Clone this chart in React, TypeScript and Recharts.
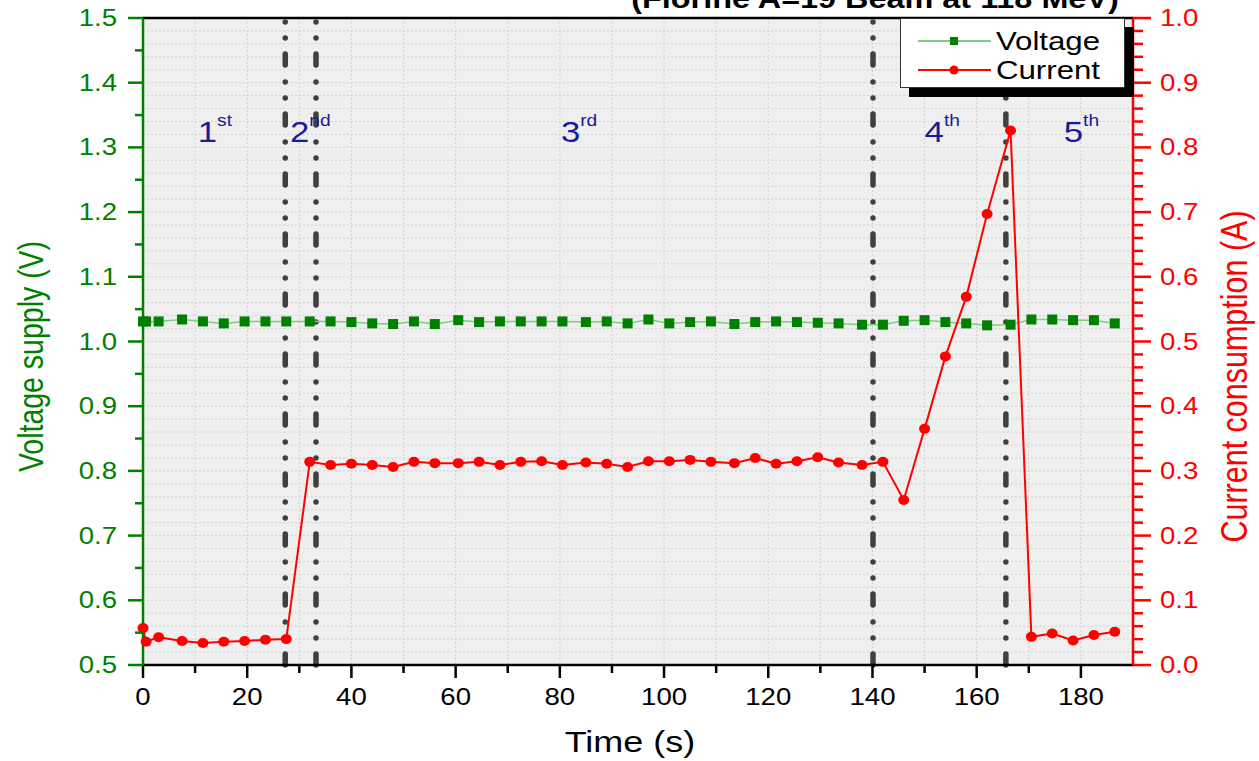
import React from 'react';
import {
  LineChart,
  Line,
  XAxis,
  YAxis,
  CartesianGrid,
  ReferenceLine,
  ReferenceDot,
  Legend,
} from 'recharts';

// time stamps (s) shared by both series
const times = [
  0, 0.6, 3, 7.5, 11.5, 15.5, 19.5, 23.5, 27.5, 32, 36, 40, 44, 48, 52, 56, 60.5, 64.5, 68.5, 72.5,
  76.5, 80.5, 85, 89, 93, 97, 101, 105, 109, 113.5, 117.5, 121.5, 125.5, 129.5, 133.5, 138, 142,
  146, 150, 154, 158, 162, 166.5, 170.5, 174.5, 178.5, 182.5, 186.5,
];

const voltage = [
  1.031, 1.031, 1.031, 1.034, 1.031, 1.028, 1.031, 1.031, 1.031, 1.031, 1.031, 1.03, 1.028, 1.027,
  1.031, 1.027, 1.033, 1.03, 1.031, 1.031, 1.031, 1.031, 1.03, 1.031, 1.028, 1.034, 1.028, 1.03,
  1.031, 1.027, 1.03, 1.031, 1.03, 1.029, 1.028, 1.026, 1.026, 1.032, 1.033, 1.03, 1.028, 1.025,
  1.026, 1.034, 1.034, 1.033, 1.033, 1.028,
];

const current = [
  0.057, 0.036, 0.043, 0.037, 0.034, 0.036, 0.037, 0.039, 0.04, 0.314, 0.309, 0.311, 0.309, 0.306,
  0.314, 0.312, 0.312, 0.314, 0.309, 0.314, 0.315, 0.309, 0.313, 0.311, 0.306, 0.315, 0.315, 0.317,
  0.314, 0.312, 0.32, 0.311, 0.315, 0.321, 0.313, 0.309, 0.314, 0.255, 0.365, 0.477, 0.569, 0.697,
  0.826, 0.0435, 0.0486, 0.0378, 0.0464, 0.0515,
];

// stage boundaries and stage labels
const stageBounds = [27.3, 33.2, 140.1, 165.6];
const stageNums = ['1', '2', '3', '4', '5'];
const stageSups = ['st', 'nd', 'rd', 'th', 'th'];
const stageLabelAt = [10.5, 28.2, 80.2, 150, 176.7];

const xTicks = [0, 10, 20, 30, 40, 50, 60, 70, 80, 90, 100, 110, 120, 130, 140, 150, 160, 170, 180];
const leftTicks = [
  0.5, 0.55, 0.6, 0.65, 0.7, 0.75, 0.8, 0.85, 0.9, 0.95, 1.0, 1.05, 1.1, 1.15, 1.2, 1.25, 1.3, 1.35,
  1.4, 1.45, 1.5,
];
const rightTicks = Array.from({ length: 51 }, (_, i) => Math.round(i * 2) / 100);

const data = times.map((t, i) => ({ t, voltage: voltage[i], current: current[i] }));

const FONT = '"Liberation Sans", Arial, sans-serif';
const GREEN = '#008000';
const RED = '#ff0000';
const NAVY = '#1a1a9c';
const SX = 1.2; // the source figure is stretched horizontally

const isMajor = (v: number, step: number) => Math.abs(v / step - Math.round(v / step)) < 1e-6;

const LeftTick = ({ x, y, payload }: any) => {
  const major = isMajor(payload.value, 0.1);
  return (
    <g>
      <line x1={x - (major ? 15 : 8)} x2={x} y1={y} y2={y} stroke={GREEN} strokeWidth={2.5} />
      {major && (
        <g transform={`translate(${x - 26},${y + 8}) scale(${SX},1)`}>
          <text textAnchor="end" fontSize={23} fontFamily={FONT} fill={GREEN}>
            {payload.value.toFixed(1)}
          </text>
        </g>
      )}
    </g>
  );
};

const RightTick = ({ x, y, payload }: any) => {
  const major = isMajor(payload.value, 0.1);
  return (
    <g>
      <line x1={x} x2={x + (major ? 18 : 10)} y1={y} y2={y} stroke={RED} strokeWidth={2.5} />
      {major && (
        <g transform={`translate(${x + 27},${y + 8}) scale(${SX},1)`}>
          <text textAnchor="start" fontSize={23} fontFamily={FONT} fill={RED}>
            {payload.value.toFixed(1)}
          </text>
        </g>
      )}
    </g>
  );
};

const BottomTick = ({ x, y, payload }: any) => {
  const major = isMajor(payload.value, 20);
  return (
    <g>
      <line x1={x} x2={x} y1={y} y2={y + (major ? 13 : 8)} stroke="#000" strokeWidth={2.5} />
      {major && (
        <g transform={`translate(${x},${y + 40}) scale(${SX},1)`}>
          <text textAnchor="middle" fontSize={23} fontFamily={FONT} fill="#000">
            {payload.value}
          </text>
        </g>
      )}
    </g>
  );
};

const squareDot = (p: any) => (
  <rect key={`v${p.index}`} x={p.cx - 5} y={p.cy - 5} width={10} height={10} fill={GREEN} />
);
const roundDot = (p: any) => (
  <ellipse key={`c${p.index}`} cx={p.cx} cy={p.cy} rx={5.5} ry={5} fill={RED} />
);

const stageLabel = (i: number) => (p: any) => {
  const vb = p.viewBox || {};
  return (
    <g transform={`translate(${vb.x},${vb.y}) scale(${SX},1)`}>
      <text fontSize={29} fontFamily={FONT} fill={NAVY}>
        {stageNums[i]}
        <tspan dy={-16} fontSize={16}>
          {stageSups[i]}
        </tspan>
      </text>
    </g>
  );
};

const axisTitle = (text: string, color: string, dx: number, dy: number, size: number) => (p: any) => {
  const vb = p.viewBox;
  const cx = vb.x + dx;
  const cy = vb.y + vb.height / 2 + dy;
  return (
    <g transform={`translate(${cx},${cy}) scale(${SX},1) rotate(-90)`}>
      <text textAnchor="middle" fontSize={size} fontFamily={FONT} fill={color}>
        {text}
      </text>
    </g>
  );
};

const timeTitle = (p: any) => {
  const vb = p.viewBox;
  return (
    <g transform={`translate(${vb.x + vb.width / 2 - 8},${vb.y + 87}) scale(${SX},1)`}>
      <text textAnchor="middle" fontSize={30} fontFamily={FONT} fill="#000">
        Time (s)
      </text>
    </g>
  );
};

const LegendBox = () => (
  <div
    style={{
      width: 223,
      height: 68,
      background: '#fff',
      border: '1px solid #333',
      boxShadow: '9px 9px 0 #000',
    }}
  >
    <svg width={223} height={68}>
      <line x1={17} x2={90} y1={22} y2={22} stroke="#80cc80" strokeWidth={2} />
      <rect x={49} y={18} width={8} height={8} fill={GREEN} />
      <g transform={`translate(95,31) scale(${SX},1)`}>
        <text fontSize={26} fontFamily={FONT} fill="#000">
          Voltage
        </text>
      </g>
      <line x1={17} x2={90} y1={51} y2={51} stroke={RED} strokeWidth={2} />
      <circle cx={53} cy={51} r={4.5} fill={RED} />
      <g transform={`translate(95,60) scale(${SX},1)`}>
        <text fontSize={26} fontFamily={FONT} fill="#000">
          Current
        </text>
      </g>
    </svg>
  </div>
);

const dashDot = (p: any) => (
  <line
    x1={p.x1}
    x2={p.x2}
    y1={p.y1}
    y2={p.y2}
    stroke="#404040"
    strokeWidth={5.5}
    strokeLinecap="round"
    strokeDasharray="11 16 0 16 0 17"
  />
);

export default function App() {
  return (
    <div style={{ position: 'absolute', left: 0, top: 0, width: 1259, height: 761, background: '#fff' }}>
      <LineChart
        width={1259}
        height={761}
        data={data}
        margin={{ top: 18, right: 0, bottom: 0, left: 0 }}
      >
        <CartesianGrid
          yAxisId="right"
          fill="#efefef"
          stroke="#d2d2d2"
          strokeDasharray="2 2"
        />
        <XAxis
          dataKey="t"
          type="number"
          domain={[0, 190]}
          ticks={xTicks}
          interval={0}
          height={96}
          tickSize={0}
          tickMargin={0}
          tick={<BottomTick />}
          axisLine={{ stroke: '#000', strokeWidth: 2.5 }}
          tickLine={false}
          label={timeTitle}
        />
        <YAxis
          yAxisId="left"
          orientation="left"
          domain={[0.5, 1.5]}
          ticks={leftTicks}
          interval={0}
          width={143}
          tickSize={0}
          tickMargin={0}
          tick={<LeftTick />}
          axisLine={{ stroke: GREEN, strokeWidth: 2.5 }}
          tickLine={false}
          allowDataOverflow
          label={axisTitle('Voltage supply (V)', GREEN, 43, 15, 28.5)}
        />
        <YAxis
          yAxisId="right"
          orientation="right"
          domain={[0, 1]}
          ticks={rightTicks}
          interval={0}
          width={126}
          tickSize={0}
          tickMargin={0}
          tick={<RightTick />}
          axisLine={{ stroke: RED, strokeWidth: 2.5 }}
          tickLine={false}
          allowDataOverflow
          label={axisTitle('Current consumption (A)', RED, 114, 35, 30.5)}
        />
        <ReferenceLine yAxisId="left" y={1.5} stroke="#000" strokeWidth={2.5} />
        {stageBounds.map((b) => (
          <ReferenceLine key={b} yAxisId="left" x={b} shape={dashDot} />
        ))}
        {stageNums.map((_, i) => (
          <ReferenceDot
            key={i}
            yAxisId="left"
            x={stageLabelAt[i]}
            y={1.308}
            r={0}
            fill="none"
            stroke="none"
            label={stageLabel(i)}
          />
        ))}
        <Line
          yAxisId="left"
          dataKey="voltage"
          name="Voltage"
          stroke="#80cc80"
          strokeWidth={1.5}
          dot={squareDot}
          activeDot={false}
          isAnimationActive={false}
        />
        <Line
          yAxisId="right"
          dataKey="current"
          name="Current"
          stroke={RED}
          strokeWidth={2}
          dot={roundDot}
          activeDot={false}
          isAnimationActive={false}
        />
        <Legend
          layout="horizontal"
          align="center"
          verticalAlign="middle"
          wrapperStyle={{ left: 900, top: 18, width: 225, height: 70 }}
          content={() => <LegendBox />}
        />
      </LineChart>
      <svg
        width={1259}
        height={761}
        style={{ position: 'absolute', left: 0, top: 0, pointerEvents: 'none' }}
      >
        <g transform={`translate(875,8) scale(${SX},1)`}>
          <text textAnchor="middle" fontSize={27} fontWeight="bold" fontFamily={FONT} fill="#000">
            (Florine A=19 Beam at 118 MeV)
          </text>
        </g>
      </svg>
    </div>
  );
}
